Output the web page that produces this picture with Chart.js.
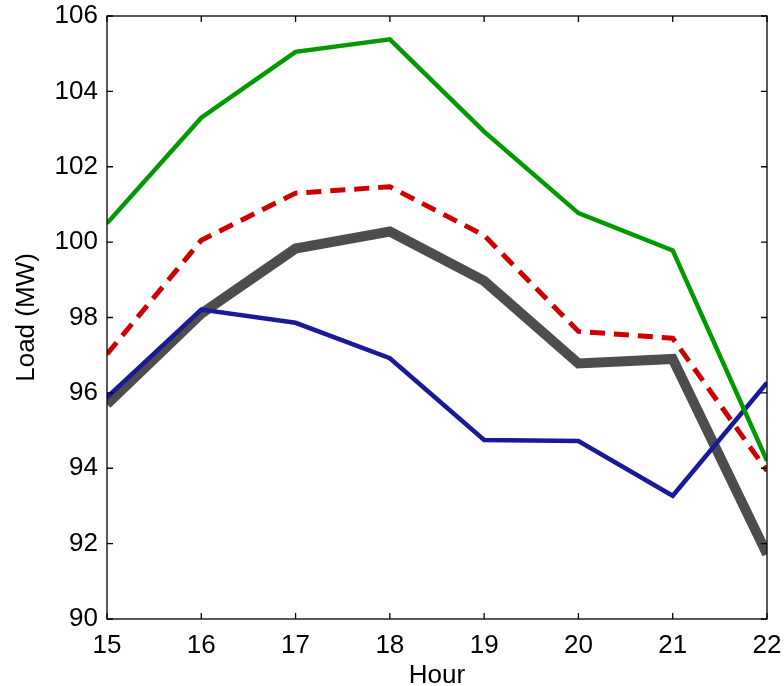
<!DOCTYPE html>
<html>
<head>
<meta charset="utf-8">
<script src="https://cdn.jsdelivr.net/npm/chart.js@4.4.1/dist/chart.umd.min.js"></script>
<style>
  html, body { margin: 0; padding: 0; background: #fff; }
  #wrap { width: 784px; height: 686px; }
</style>
</head>
<body>
<div id="wrap"><canvas id="loadChart" width="784" height="686"></canvas></div>
<script>
const hours = [15, 16, 17, 18, 19, 20, 21, 22];
const loadGreen = [100.5, 103.3, 105.05, 105.38, 102.93, 100.77, 99.78, 94.2];
const loadBlue = [95.88, 98.21, 97.86, 96.92, 94.75, 94.72, 93.27, 96.27];
const loadRed = [97.03, 100.05, 101.3, 101.47, 100.18, 97.63, 97.45, 93.93];
const loadGray = [95.7, 98.1, 99.83, 100.28, 98.97, 96.78, 96.9, 91.72];
const yTicks = [90, 92, 94, 96, 98, 100, 102, 104, 106];

const font = { family: "'Liberation Sans', Arial, sans-serif", size: 26 };

function puntos(valores) {
    return hours.map((h, i) => ({ x: h, y: valores[i] }));
}

// marco y ticks hacia dentro, estilo matlab
const marco = {
    id: "marco",
    afterDraw(chart) {
        const { ctx, chartArea: a, scales } = chart;
        ctx.save();
        ctx.strokeStyle = "#000";
        ctx.lineWidth = 1.3;
        ctx.strokeRect(a.left, a.top, a.right - a.left, a.bottom - a.top);
        ctx.beginPath();
        hours.forEach(h => {
            const px = scales.x.getPixelForValue(h);
            ctx.moveTo(px, a.bottom); ctx.lineTo(px, a.bottom - 6);
            ctx.moveTo(px, a.top); ctx.lineTo(px, a.top + 6);
        });
        yTicks.forEach(v => {
            const py = scales.y.getPixelForValue(v);
            ctx.moveTo(a.left, py); ctx.lineTo(a.left + 6, py);
            ctx.moveTo(a.right, py); ctx.lineTo(a.right - 6, py);
        });
        ctx.stroke();
        ctx.restore();
    }
};

new Chart(document.getElementById("loadChart"), {
    type: "line",
    data: {
        datasets: [
            { data: puntos(loadGreen), borderColor: "#009a00", borderWidth: 4.5, clip: 0 },
            { data: puntos(loadBlue), borderColor: "#1a1a99", borderWidth: 4.5, clip: 0 },
            { data: puntos(loadRed), borderColor: "#cc0000", borderWidth: 5, borderDash: [15, 9], clip: 0 },
            { data: puntos(loadGray), borderColor: "#4d4d4d", borderWidth: 10, clip: 0 }
        ]
    },
    options: {
        responsive: false,
        animation: false,
        layout: { padding: { top: 16, right: 17, left: 0, bottom: 0 } },
        elements: {
            point: { radius: 0 },
            line: { tension: 0, borderJoinStyle: "miter", borderCapStyle: "butt", fill: false }
        },
        plugins: { legend: { display: false }, tooltip: { enabled: false } },
        scales: {
            x: {
                type: "linear",
                min: 15, max: 22,
                afterFit: s => { s.height = 67; s.paddingLeft = 0; s.paddingRight = 0; },
                afterBuildTicks: s => { s.ticks = hours.map(v => ({ value: v })); },
                grid: { display: false, drawTicks: false },
                border: { display: false },
                ticks: { color: "#000", font: font, padding: 11, maxRotation: 0 },
                title: { display: true, text: "Hour", color: "#000", font: { ...font, lineHeight: 0.8 }, padding: { top: 0, bottom: 0 } }
            },
            y: {
                min: 90, max: 106,
                afterFit: s => { s.width = 107; s.paddingTop = 0; s.paddingBottom = 0; },
                afterBuildTicks: s => { s.ticks = yTicks.map(v => ({ value: v })); },
                grid: { display: false, drawTicks: false },
                border: { display: false },
                ticks: { color: "#000", font: font, padding: 9 },
                title: { display: true, text: "Load (MW)", color: "#000", font: font, padding: { top: 11, bottom: 0 } }
            }
        }
    },
    plugins: [marco]
});
</script>
</body>
</html>
